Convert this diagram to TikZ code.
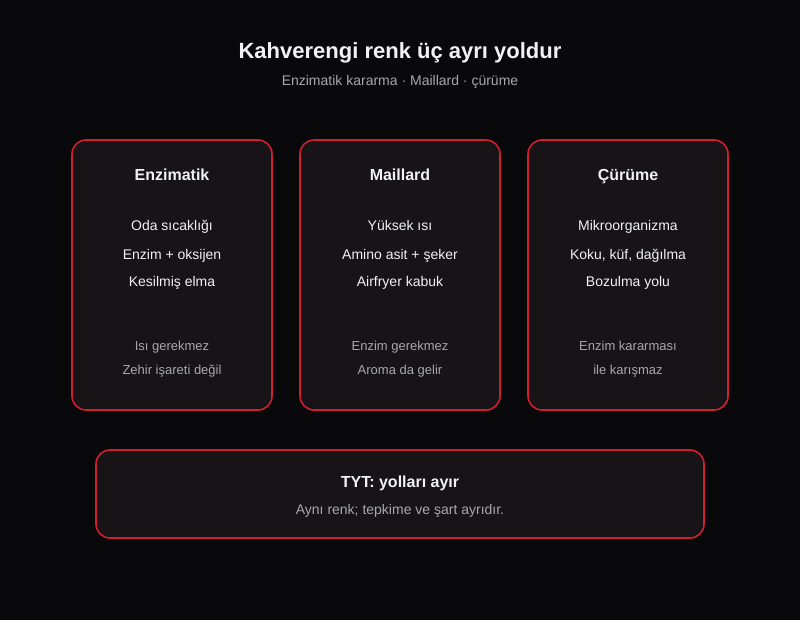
\documentclass[tikz,border=0pt]{standalone}
\usepackage{fontspec}
\setmainfont{Liberation Sans}
\definecolor{bg}{HTML}{09080A}
\definecolor{cardfill}{HTML}{171316}
\definecolor{cardline}{HTML}{D21F2F}
\definecolor{txtmain}{HTML}{F2F2F2}
\definecolor{txtsub}{HTML}{A8A8A8}
\begin{document}
\begin{tikzpicture}[x=1pt,y=-1pt,
  every node/.style={anchor=base,inner sep=0pt},
  card/.style={draw=cardline,line width=1.6pt,fill=cardfill,rounded corners=14pt},
  ttl/.style={text=txtmain,font=\bfseries\fontsize{22}{26}\selectfont},
  sub/.style={text=txtsub,font=\fontsize{14}{17}\selectfont},
  head/.style={text=txtmain,font=\bfseries\fontsize{16}{19}\selectfont},
  item/.style={text=txtmain,font=\fontsize{14}{17}\selectfont},
  note/.style={text=txtsub,font=\fontsize{13}{16}\selectfont}]
\fill[bg] (0,0) rectangle (800,620);
\useasboundingbox (0,0) rectangle (800,620);
\node[ttl] (title) at (400,59) {Kahverengi renk üç ayrı yoldur};
\node[sub] (subtitle) at (400,86) {Enzimatik kararma · Maillard · çürüme};
% cards
\draw[card] (72,140) rectangle (272,410);
\draw[card] (300,140) rectangle (500,410);
\draw[card] (528,140) rectangle (728,410);
\draw[card] (96,450) rectangle (704,538);
% card 1
\node[head] (h1) at (172,181) {Enzimatik};
\node[item] (a1) at (172,231) {Oda sıcaklığı};
\node[item] (b1) at (172,259) {Enzim + oksijen};
\node[item] (c1) at (172,287) {Kesilmiş elma};
\node[note] (d1) at (172,350) {Isı gerekmez};
\node[note] (e1) at (172,374) {Zehir işareti değil};
% card 2
\node[head] (h2) at (400,181) {Maillard};
\node[item] (a2) at (400,231) {Yüksek ısı};
\node[item] (b2) at (400,259) {Amino asit + şeker};
\node[item] (c2) at (400,287) {Airfryer kabuk};
\node[note] (d2) at (400,350) {Enzim gerekmez};
\node[note] (e2) at (400,374) {Aroma da gelir};
% card 3
\node[head] (h3) at (628,181) {Çürüme};
\node[item] (a3) at (628,231) {Mikroorganizma};
\node[item] (b3) at (628,259) {Koku, küf, dağılma};
\node[item] (c3) at (628,287) {Bozulma yolu};
\node[note] (d3) at (628,350) {Enzim kararması};
\node[note] (e3) at (628,374) {ile karışmaz};
% bottom
\node[head] (bt) at (400,487) {TYT: yolları ayır};
\node[sub] (bs) at (400,514) {Aynı renk; tepkime ve şart ayrıdır.};
\end{tikzpicture}
\end{document}
